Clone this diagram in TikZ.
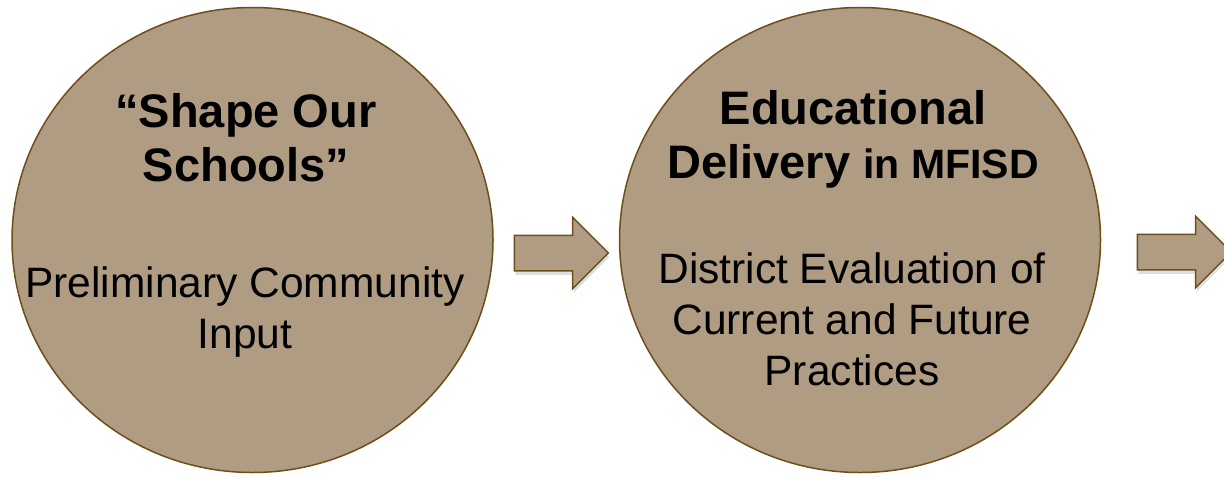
\documentclass[tikz,border=0pt]{standalone}
\usepackage{fontspec}
\setmainfont{Liberation Sans}
\usepackage{xcolor}
\usetikzlibrary{shapes.geometric,shapes.arrows,shadows,positioning}
\definecolor{stagefill}{RGB}{175,156,131}
\definecolor{stageline}{RGB}{110,78,25}

\begin{document}
\begin{tikzpicture}[x=1pt,y=-1pt]
  \tikzset{stage/.style = {shape=ellipse,draw=stageline,fill=stagefill,line width=1.5pt,inner sep=0pt,minimum width=481pt,minimum height=465pt}}
  \tikzset{stagearrow/.style = {shape=single arrow,draw=stageline,fill=stagefill,line width=1.5pt,inner xsep=0pt,inner ysep=17pt,minimum height=94pt,minimum width=70pt,single arrow head extend=18pt,drop shadow={opacity=0.25,shadow xshift=1pt,shadow yshift=-4pt}}}
  \tikzset{headline/.style = {align=center,font=\bfseries\fontsize{47}{54}\selectfont,anchor=base}}
  \tikzset{bodytext/.style = {align=center,font=\fontsize{42.5}{51}\selectfont,anchor=base}}

  \useasboundingbox (0,0) rectangle (1224,477);

	\node[stage] (SOS) at (252.5,240) {};
	\node[stage] (EDM) at (860,240) {};

	\node[stagearrow] (A1) at (552.5,253) {};
	\node[stagearrow] (A2) at (1175.5,252) {};

	% texts of the first stage
	\node[headline] (SOShead) at (246,181.7) {“Shape Our\\Schools”};
	\node[bodytext] (SOSbody) at (245,348) {Preliminary Community\\Input};

	% texts of the second stage
	\node[headline] (EDMhead) at (853,178) {Educational\\Delivery {\fontsize{41}{54}\selectfont in MFISD}};
	\node[bodytext] (EDMbody) at (852,385) {District Evaluation of\\Current and Future\\Practices};

\end{tikzpicture}
\end{document}
